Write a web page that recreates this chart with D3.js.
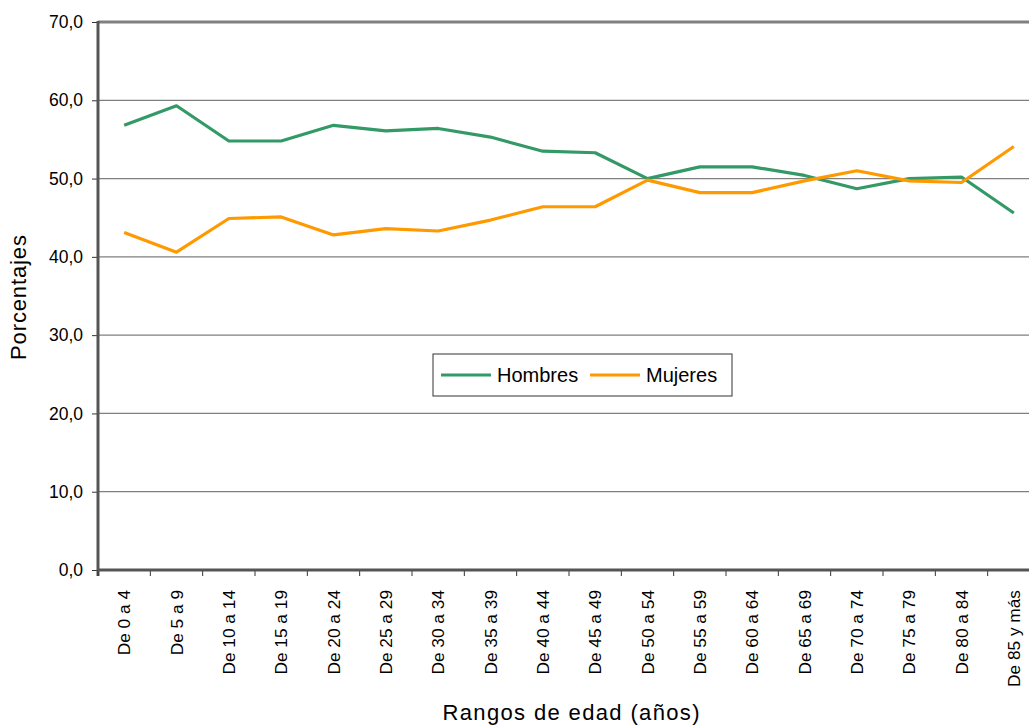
<!DOCTYPE html>
<meta charset='utf-8'>
<style>
  body { margin: 0; background: #fff; }
  svg { font-family: "Liberation Sans", Arial, sans-serif; }
  .grid line { stroke: #808080; stroke-width: 1.2; }
  .tick text { fill: #000; }
  .y-axis .tick text { font-size: 17.5px; }
</style>
<body>
<div id="viz"></div>
<script src="https://d3js.org/d3.v7.min.js"></script>
<script>

// age ranges
const categories = ['De 0 a 4', 'De 5 a 9', 'De 10 a 14', 'De 15 a 19', 'De 20 a 24', 'De 25 a 29',
  'De 30 a 34', 'De 35 a 39', 'De 40 a 44', 'De 45 a 49', 'De 50 a 54', 'De 55 a 59',
  'De 60 a 64', 'De 65 a 69', 'De 70 a 74', 'De 75 a 79', 'De 80 a 84', 'De 85 y más'];

const hombres = [56.8, 59.3, 54.8, 54.8, 56.8, 56.1, 56.4, 55.3, 53.5, 53.3, 50.0, 51.5, 51.5, 50.4, 48.7, 50.0, 50.2, 45.6];
const mujeres = [43.1, 40.6, 44.9, 45.1, 42.8, 43.6, 43.3, 44.7, 46.4, 46.4, 49.8, 48.2, 48.2, 49.7, 51.0, 49.7, 49.5, 54.1];

const yTicks = [0, 10, 20, 30, 40, 50, 60, 70];

const series = [
  {name: 'Hombres', values: hombres, color: '#339966'},
  {name: 'Mujeres', values: mujeres, color: '#FF9900'}
];

var W = 1029, H = 728;
var m = {left: 98, top: 22, right: -11, bottom: 158};
var width = W - m.left - m.right, height = H - m.top - m.bottom;

var svg = d3.select('#viz').append('svg').attr('width', W).attr('height', H)
var g = svg.append('g').attr('transform', 'translate(' + m.left + ',' + m.top + ')')

var x = d3.scaleBand().domain(categories).range([0, width])
var y = d3.scaleLinear().domain([0, 70]).range([height, 0])

var fmt = d => d3.format('.1f')(d).replace('.', ',')

// gridlines
g.append('g').attr('class', 'grid')
  .selectAll('line').data(yTicks.filter(d => d > 0 && d < 70)).join('line')
  .attr('x1', 0).attr('x2', width).attr('y1', d => y(d)).attr('y2', d => y(d))

// top border
g.append('line').attr('x1', 0).attr('x2', width).attr('y1', y(70)).attr('y2', y(70))
  .attr('stroke', '#808080').attr('stroke-width', 3)

// y axis
var yAxis = g.append('g').attr('class', 'y-axis')
  .call(d3.axisLeft(y).tickValues(yTicks).tickFormat(fmt).tickSize(6).tickPadding(9))
yAxis.attr('font-size', null)
yAxis.select('.domain').remove()
yAxis.selectAll('.tick line').attr('stroke', '#333')
g.append('line').attr('x1', 0).attr('x2', 0).attr('y1', y(70) - 1).attr('y2', height + 6)
  .attr('stroke', '#555').attr('stroke-width', 3)

// x axis
var xAxis = g.append('g').attr('transform', 'translate(0,' + height + ')')
  .call(d3.axisBottom(x).tickSize(0))
xAxis.select('.domain').remove()
xAxis.selectAll('.tick text')
  .attr('transform', 'rotate(-90)')
  .attr('x', -20).attr('y', 0).attr('dy', '0.35em')
  .attr('text-anchor', 'end').style('font-size', '17.3px')

// tick marks between categories
g.append('g').selectAll('line').data(d3.range(categories.length)).join('line')
  .attr('x1', i => x(categories[i])).attr('x2', i => x(categories[i]))
  .attr('y1', height).attr('y2', height + 6)
  .attr('stroke', '#333').attr('stroke-width', 1)

g.append('line').attr('x1', 0).attr('x2', width).attr('y1', height).attr('y2', height)
  .attr('stroke', '#555').attr('stroke-width', 3)

// lines
var line = d3.line()
  .x((d, i) => x(categories[i]) + x.bandwidth() / 2)
  .y(d => y(d))

series.forEach(s => {
  g.append('path').attr('d', line(s.values))
    .attr('fill', 'none').attr('stroke', s.color).attr('stroke-width', 3.2)
    .attr('stroke-linejoin', 'round')
})

// axis titles
svg.append('text').attr('transform', 'translate(25.5,297.5) rotate(-90)')
  .attr('text-anchor', 'middle').style('font-size', '22px')
  .attr('textLength', 125).attr('lengthAdjust', 'spacing')
  .text('Porcentajes')
svg.append('text').attr('x', 571).attr('y', 720)
  .attr('text-anchor', 'middle').style('font-size', '22px')
  .attr('textLength', 257).attr('lengthAdjust', 'spacing')
  .text('Rangos de edad (años)')

// legend
var leg = svg.append('g').attr('transform', 'translate(433,354)')
leg.append('rect').attr('width', 299).attr('height', 42)
  .attr('fill', '#fff').attr('stroke', '#333').attr('stroke-width', 1)
var legX = [8, 157]
series.forEach((s, i) => {
  leg.append('line').attr('x1', legX[i]).attr('x2', legX[i] + 50).attr('y1', 21).attr('y2', 21)
    .attr('stroke', s.color).attr('stroke-width', 3.2)
  leg.append('text').attr('x', legX[i] + 56).attr('y', 21).attr('dy', '0.35em')
    .style('font-size', '20px').text(s.name)
})

</script>
</body>
